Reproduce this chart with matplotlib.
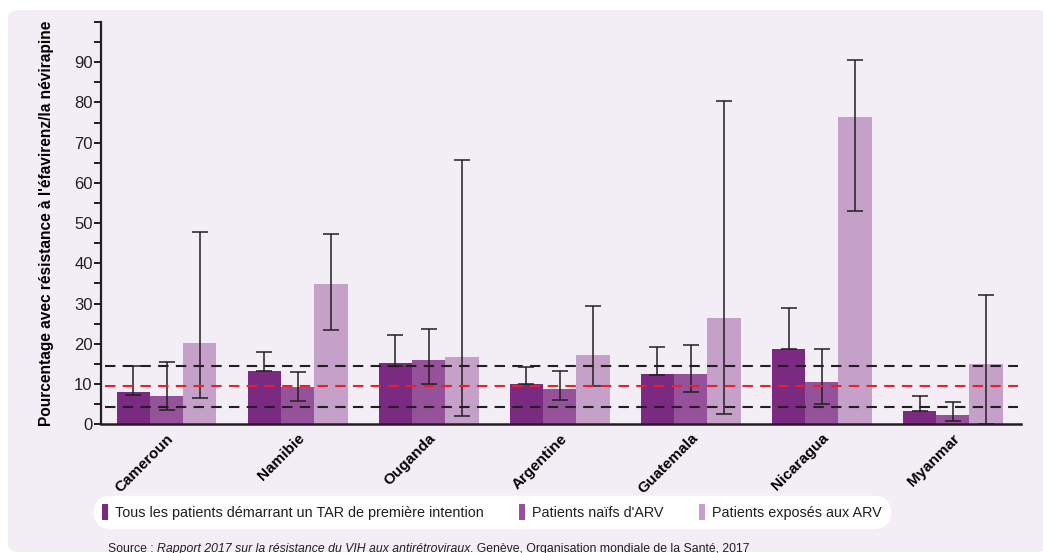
import matplotlib.pyplot as plt
import numpy as np
from matplotlib.patches import FancyBboxPatch, Patch

# Données
pays = ['Cameroun', 'Namibie', 'Ouganda', 'Argentine', 'Guatemala', 'Nicaragua', 'Myanmar']

tous = [8.0, 13.3, 15.2, 10.0, 12.5, 18.7, 3.3]
tous_bas = [7.4, 13.2, 14.5, 9.9, 12.3, 18.6, 3.2]
tous_haut = [14.5, 17.9, 22.3, 14.3, 19.1, 28.8, 7.0]

naifs = [7.0, 9.3, 16.0, 8.8, 12.5, 10.5, 2.3]
naifs_bas = [3.5, 5.9, 10.0, 6.1, 8.0, 5.1, 0.8]
naifs_haut = [15.5, 13.0, 23.6, 13.2, 19.6, 18.7, 5.5]

exposes = [20.2, 34.9, 16.7, 17.2, 26.4, 76.4, 15.0]
exposes_bas = [6.5, 23.5, 2.0, 9.5, 2.6, 52.9, 0.1]
exposes_haut = [47.8, 47.3, 65.7, 29.3, 80.3, 90.5, 32.1]

# lignes de référence
seuil_haut = 14.5
seuil_median = 9.4
seuil_bas = 4.3

series = ['Tous les patients démarrant un TAR de première intention',
          "Patients naïfs d'ARV",
          'Patients exposés aux ARV']
couleurs = ['#7b2a82', '#95529a', '#c5a0c8']
sombre = '#231f20'
fond = '#f3eef5'

plt.rcParams['font.family'] = ['Liberation Sans', 'DejaVu Sans']

fig = plt.figure(figsize=(10.43, 5.53), dpi=100, facecolor='white')

# panneau de fond arrondi
panneau = FancyBboxPatch((8 / 1043, 1 / 553), 1040 / 1043, 542 / 553,
                         boxstyle='round,pad=0,rounding_size=0.012',
                         transform=fig.transFigure, facecolor=fond,
                         edgecolor='none', zorder=-10)
fig.patches.append(panneau)

ax = fig.add_axes([101 / 1043, 128.7 / 553, 920 / 1043, 402.3 / 553])
ax.set_facecolor('none')

x = np.arange(len(pays))
largeur = 0.254
donnees = [(tous, tous_bas, tous_haut), (naifs, naifs_bas, naifs_haut),
           (exposes, exposes_bas, exposes_haut)]

for i, (vals, bas, haut) in enumerate(donnees):
    vals = np.array(vals)
    err = [np.clip(vals - np.array(bas), 0, None), np.clip(np.array(haut) - vals, 0, None)]
    pos = x + (i - 1) * largeur
    ax.bar(pos, vals, largeur, color=couleurs[i], zorder=2, label=series[i])
    ax.errorbar(pos, vals, yerr=err, fmt='none', ecolor=sombre, elinewidth=1.1,
                capsize=5.8, capthick=1.1, zorder=4)

# lignes pointillées
for y, c in [(seuil_haut, sombre), (seuil_median, '#e8202a'), (seuil_bas, sombre)]:
    ax.axhline(y, xmin=0.004, xmax=0.997, color=c, lw=1.5, ls=(0, (5, 3.5)), zorder=5)

ax.set_xlim(-0.5, 6.52)
ax.set_ylim(0, 100)
ax.set_yticks(np.arange(0, 101, 10))
ax.set_yticklabels([str(v) for v in range(0, 100, 10)] + [''])
ax.set_yticks(np.arange(5, 100, 10), minor=True)
ax.tick_params(axis='y', which='both', length=5, width=1.4, color=sombre,
               labelsize=12, labelcolor=sombre, pad=1)
ax.set_xticks(x)
ax.set_xticklabels(pays, rotation=45, ha='right', rotation_mode='anchor',
                   fontweight='bold', fontsize=11, color='black')
ax.tick_params(axis='x', length=0, pad=5)

for s in ['top', 'right']:
    ax.spines[s].set_visible(False)
ax.spines['left'].set_linewidth(1.6)
ax.spines['bottom'].set_linewidth(1.8)
ax.spines['left'].set_color(sombre)
ax.spines['bottom'].set_color(sombre)

ax.set_ylabel("Pourcentage avec résistance à l'éfavirenz/la névirapine",
              fontweight='bold', fontsize=11.2, color='black')
ax.yaxis.set_label_coords(-0.051, 0.5)

# légende
poignees = [Patch(facecolor=c, edgecolor='none') for c in couleurs]
leg = fig.legend(poignees, series, loc='center', ncol=3,
                 bbox_to_anchor=(492 / 1043, 1 - 512 / 553),
                 fontsize=10.4, frameon=True, fancybox=True, framealpha=1,
                 facecolor='white', edgecolor='white', handlelength=0.4,
                 handleheight=1.3, handletextpad=0.5, columnspacing=2.45,
                 borderpad=0.38)
leg.get_frame().set_boxstyle('round,pad=0.2,rounding_size=1.2')
for t in leg.get_texts():
    t.set_color(sombre)

# source (coupée en bas comme dans l'original)
t1 = fig.text(108 / 1043, 1 - 549 / 553, 'Source : ', fontsize=8.8, color=sombre, va='center')
t2 = ax.annotate('Rapport 2017 sur la résistance du VIH aux antirétroviraux',
                 xy=(1, 0.5), xycoords=t1, va='center', ha='left',
                 fontsize=8.8, color=sombre, style='italic', annotation_clip=False)
ax.annotate('. Genève, Organisation mondiale de la Santé, 2017',
            xy=(1, 0.5), xycoords=t2, va='center', ha='left',
            fontsize=8.8, color=sombre, annotation_clip=False)

fig.savefig('out.png', dpi=100, facecolor='white')
